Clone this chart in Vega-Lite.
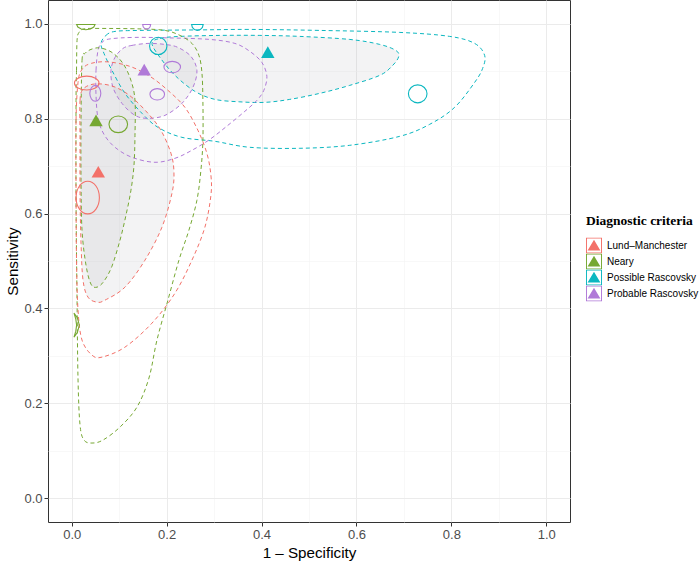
{
  "$schema": "https://vega.github.io/schema/vega-lite/v6.json",
  "width": 522,
  "height": 522,
  "autosize": {"type": "none"},
  "padding": {"left": 48, "top": 0, "right": 130, "bottom": 39},
  "background": "white",
  "config": {
    "view": {"stroke": "#333333", "strokeWidth": 1},
    "axis": {
      "domain": false,
      "labelFont": "Liberation Sans",
      "labelFontSize": 13,
      "labelColor": "#4D4D4D",
      "titleFont": "Liberation Sans",
      "titleFontSize": 15.2,
      "titleFontWeight": "normal",
      "titleColor": "#000000",
      "tickSize": 4,
      "labelPadding": 2,
      "values": [0, 0.1, 0.2, 0.3, 0.4, 0.5, 0.6, 0.7, 0.8, 0.9, 1.0],
      "labelExpr": "round(datum.value * 10) % 2 == 0 ? format(datum.value, '.1f') : ''",
      "gridColor": {"condition": {"test": "round(datum.value * 10) % 2 == 1", "value": "#F3F3F3"}, "value": "#EBEBEB"},
      "gridWidth": {"condition": {"test": "round(datum.value * 10) % 2 == 1", "value": 0.6}, "value": 1},
      "tickColor": {"condition": {"test": "round(datum.value * 10) % 2 == 1", "value": "transparent"}, "value": "#333333"}
    },
    "legend": {
      "orient": "none",
      "legendX": 538,
      "legendY": 214,
      "padding": 0,
      "titleFont": "Liberation Serif",
      "titleFontSize": 13.5,
      "titleFontWeight": "bold",
      "titleColor": "#000000",
      "titlePadding": 10,
      "labelFont": "Liberation Sans",
      "labelFontSize": 10,
      "labelColor": "#000000",
      "labelOffset": 5,
      "rowPadding": 0,
      "clipHeight": 16,
      "symbolType": "M-1,-1H1V1H-1Z M-0.88,-0.88V0.88H0.88V-0.88Z M0,-0.72L0.8,0.62H-0.8Z",
      "symbolSize": 256,
      "symbolStrokeWidth": 0,
      "symbolOpacity": 1
    }
  },
  "datasets": {
    "regions": [
      {"r": "cyan_p", "g": "Possible Rascovsky", "k": "p", "i": 0, "x": 0.0617, "y": 0.9585},
      {"r": "cyan_p", "g": "Possible Rascovsky", "k": "p", "i": 1, "x": 0.0722, "y": 0.9754},
      {"r": "cyan_p", "g": "Possible Rascovsky", "k": "p", "i": 2, "x": 0.0912, "y": 0.9838},
      {"r": "cyan_p", "g": "Possible Rascovsky", "k": "p", "i": 3, "x": 0.1438, "y": 0.9859},
      {"r": "cyan_p", "g": "Possible Rascovsky", "k": "p", "i": 4, "x": 0.2701, "y": 0.9870},
      {"r": "cyan_p", "g": "Possible Rascovsky", "k": "p", "i": 5, "x": 0.3754, "y": 0.9880},
      {"r": "cyan_p", "g": "Possible Rascovsky", "k": "p", "i": 6, "x": 0.5227, "y": 0.9859},
      {"r": "cyan_p", "g": "Possible Rascovsky", "k": "p", "i": 7, "x": 0.6912, "y": 0.9817},
      {"r": "cyan_p", "g": "Possible Rascovsky", "k": "p", "i": 8, "x": 0.7964, "y": 0.9733},
      {"r": "cyan_p", "g": "Possible Rascovsky", "k": "p", "i": 9, "x": 0.8491, "y": 0.9585},
      {"r": "cyan_p", "g": "Possible Rascovsky", "k": "p", "i": 10, "x": 0.8701, "y": 0.9333},
      {"r": "cyan_p", "g": "Possible Rascovsky", "k": "p", "i": 11, "x": 0.8659, "y": 0.9059},
      {"r": "cyan_p", "g": "Possible Rascovsky", "k": "p", "i": 12, "x": 0.8491, "y": 0.8764},
      {"r": "cyan_p", "g": "Possible Rascovsky", "k": "p", "i": 13, "x": 0.8069, "y": 0.8238},
      {"r": "cyan_p", "g": "Possible Rascovsky", "k": "p", "i": 14, "x": 0.7543, "y": 0.7880},
      {"r": "cyan_p", "g": "Possible Rascovsky", "k": "p", "i": 15, "x": 0.6912, "y": 0.7627},
      {"r": "cyan_p", "g": "Possible Rascovsky", "k": "p", "i": 16, "x": 0.5859, "y": 0.7438},
      {"r": "cyan_p", "g": "Possible Rascovsky", "k": "p", "i": 17, "x": 0.4806, "y": 0.7375},
      {"r": "cyan_p", "g": "Possible Rascovsky", "k": "p", "i": 18, "x": 0.3754, "y": 0.7396},
      {"r": "cyan_p", "g": "Possible Rascovsky", "k": "p", "i": 19, "x": 0.3017, "y": 0.7522},
      {"r": "cyan_p", "g": "Possible Rascovsky", "k": "p", "i": 20, "x": 0.2322, "y": 0.7606},
      {"r": "cyan_p", "g": "Possible Rascovsky", "k": "p", "i": 21, "x": 0.1817, "y": 0.7817},
      {"r": "cyan_p", "g": "Possible Rascovsky", "k": "p", "i": 22, "x": 0.1480, "y": 0.8112},
      {"r": "cyan_p", "g": "Possible Rascovsky", "k": "p", "i": 23, "x": 0.1122, "y": 0.8533},
      {"r": "cyan_p", "g": "Possible Rascovsky", "k": "p", "i": 24, "x": 0.0848, "y": 0.9017},
      {"r": "cyan_p", "g": "Possible Rascovsky", "k": "p", "i": 25, "x": 0.0680, "y": 0.9375},

      {"r": "cyan_c", "g": "Possible Rascovsky", "k": "c", "i": 0, "x": 0.1691, "y": 0.9585},
      {"r": "cyan_c", "g": "Possible Rascovsky", "k": "c", "i": 1, "x": 0.1859, "y": 0.9691},
      {"r": "cyan_c", "g": "Possible Rascovsky", "k": "c", "i": 2, "x": 0.2280, "y": 0.9733},
      {"r": "cyan_c", "g": "Possible Rascovsky", "k": "c", "i": 3, "x": 0.3122, "y": 0.9754},
      {"r": "cyan_c", "g": "Possible Rascovsky", "k": "c", "i": 4, "x": 0.3964, "y": 0.9754},
      {"r": "cyan_c", "g": "Possible Rascovsky", "k": "c", "i": 5, "x": 0.4806, "y": 0.9733},
      {"r": "cyan_c", "g": "Possible Rascovsky", "k": "c", "i": 6, "x": 0.5859, "y": 0.9669},
      {"r": "cyan_c", "g": "Possible Rascovsky", "k": "c", "i": 7, "x": 0.6491, "y": 0.9564},
      {"r": "cyan_c", "g": "Possible Rascovsky", "k": "c", "i": 8, "x": 0.6827, "y": 0.9438},
      {"r": "cyan_c", "g": "Possible Rascovsky", "k": "c", "i": 9, "x": 0.6891, "y": 0.9312},
      {"r": "cyan_c", "g": "Possible Rascovsky", "k": "c", "i": 10, "x": 0.6764, "y": 0.9122},
      {"r": "cyan_c", "g": "Possible Rascovsky", "k": "c", "i": 11, "x": 0.6491, "y": 0.8912},
      {"r": "cyan_c", "g": "Possible Rascovsky", "k": "c", "i": 12, "x": 0.5859, "y": 0.8701},
      {"r": "cyan_c", "g": "Possible Rascovsky", "k": "c", "i": 13, "x": 0.5227, "y": 0.8533},
      {"r": "cyan_c", "g": "Possible Rascovsky", "k": "c", "i": 14, "x": 0.4596, "y": 0.8406},
      {"r": "cyan_c", "g": "Possible Rascovsky", "k": "c", "i": 15, "x": 0.4069, "y": 0.8343},
      {"r": "cyan_c", "g": "Possible Rascovsky", "k": "c", "i": 16, "x": 0.3543, "y": 0.8354},
      {"r": "cyan_c", "g": "Possible Rascovsky", "k": "c", "i": 17, "x": 0.3017, "y": 0.8406},
      {"r": "cyan_c", "g": "Possible Rascovsky", "k": "c", "i": 18, "x": 0.2596, "y": 0.8575},
      {"r": "cyan_c", "g": "Possible Rascovsky", "k": "c", "i": 19, "x": 0.2175, "y": 0.8912},
      {"r": "cyan_c", "g": "Possible Rascovsky", "k": "c", "i": 20, "x": 0.1859, "y": 0.9291},

      {"r": "purple_p", "g": "Probable Rascovsky", "k": "p", "i": 0, "x": 0.0512, "y": 0.8491},
      {"r": "purple_p", "g": "Probable Rascovsky", "k": "p", "i": 1, "x": 0.0512, "y": 0.9017},
      {"r": "purple_p", "g": "Probable Rascovsky", "k": "p", "i": 2, "x": 0.0554, "y": 0.9438},
      {"r": "purple_p", "g": "Probable Rascovsky", "k": "p", "i": 3, "x": 0.0638, "y": 0.9606},
      {"r": "purple_p", "g": "Probable Rascovsky", "k": "p", "i": 4, "x": 0.0806, "y": 0.9680},
      {"r": "purple_p", "g": "Probable Rascovsky", "k": "p", "i": 5, "x": 0.1333, "y": 0.9712},
      {"r": "purple_p", "g": "Probable Rascovsky", "k": "p", "i": 6, "x": 0.2069, "y": 0.9701},
      {"r": "purple_p", "g": "Probable Rascovsky", "k": "p", "i": 7, "x": 0.2912, "y": 0.9669},
      {"r": "purple_p", "g": "Probable Rascovsky", "k": "p", "i": 8, "x": 0.3438, "y": 0.9585},
      {"r": "purple_p", "g": "Probable Rascovsky", "k": "p", "i": 9, "x": 0.3754, "y": 0.9417},
      {"r": "purple_p", "g": "Probable Rascovsky", "k": "p", "i": 10, "x": 0.4006, "y": 0.9185},
      {"r": "purple_p", "g": "Probable Rascovsky", "k": "p", "i": 11, "x": 0.4112, "y": 0.8891},
      {"r": "purple_p", "g": "Probable Rascovsky", "k": "p", "i": 12, "x": 0.4048, "y": 0.8596},
      {"r": "purple_p", "g": "Probable Rascovsky", "k": "p", "i": 13, "x": 0.3901, "y": 0.8385},
      {"r": "purple_p", "g": "Probable Rascovsky", "k": "p", "i": 14, "x": 0.3648, "y": 0.8154},
      {"r": "purple_p", "g": "Probable Rascovsky", "k": "p", "i": 15, "x": 0.3291, "y": 0.7859},
      {"r": "purple_p", "g": "Probable Rascovsky", "k": "p", "i": 16, "x": 0.2912, "y": 0.7564},
      {"r": "purple_p", "g": "Probable Rascovsky", "k": "p", "i": 17, "x": 0.2533, "y": 0.7333},
      {"r": "purple_p", "g": "Probable Rascovsky", "k": "p", "i": 18, "x": 0.2175, "y": 0.7164},
      {"r": "purple_p", "g": "Probable Rascovsky", "k": "p", "i": 19, "x": 0.1754, "y": 0.7080},
      {"r": "purple_p", "g": "Probable Rascovsky", "k": "p", "i": 20, "x": 0.1269, "y": 0.7185},
      {"r": "purple_p", "g": "Probable Rascovsky", "k": "p", "i": 21, "x": 0.0912, "y": 0.7396},
      {"r": "purple_p", "g": "Probable Rascovsky", "k": "p", "i": 22, "x": 0.0680, "y": 0.7669},
      {"r": "purple_p", "g": "Probable Rascovsky", "k": "p", "i": 23, "x": 0.0554, "y": 0.8006},

      {"r": "purple_c", "g": "Probable Rascovsky", "k": "c", "i": 0, "x": 0.1080, "y": 0.9480},
      {"r": "purple_c", "g": "Probable Rascovsky", "k": "c", "i": 1, "x": 0.1269, "y": 0.9543},
      {"r": "purple_c", "g": "Probable Rascovsky", "k": "c", "i": 2, "x": 0.1606, "y": 0.9585},
      {"r": "purple_c", "g": "Probable Rascovsky", "k": "c", "i": 3, "x": 0.1964, "y": 0.9564},
      {"r": "purple_c", "g": "Probable Rascovsky", "k": "c", "i": 4, "x": 0.2238, "y": 0.9501},
      {"r": "purple_c", "g": "Probable Rascovsky", "k": "c", "i": 5, "x": 0.2512, "y": 0.9312},
      {"r": "purple_c", "g": "Probable Rascovsky", "k": "c", "i": 6, "x": 0.2638, "y": 0.9017},
      {"r": "purple_c", "g": "Probable Rascovsky", "k": "c", "i": 7, "x": 0.2554, "y": 0.8659},
      {"r": "purple_c", "g": "Probable Rascovsky", "k": "c", "i": 8, "x": 0.2322, "y": 0.8322},
      {"r": "purple_c", "g": "Probable Rascovsky", "k": "c", "i": 9, "x": 0.1964, "y": 0.8069},
      {"r": "purple_c", "g": "Probable Rascovsky", "k": "c", "i": 10, "x": 0.1606, "y": 0.8006},
      {"r": "purple_c", "g": "Probable Rascovsky", "k": "c", "i": 11, "x": 0.1333, "y": 0.8069},
      {"r": "purple_c", "g": "Probable Rascovsky", "k": "c", "i": 12, "x": 0.1059, "y": 0.8322},
      {"r": "purple_c", "g": "Probable Rascovsky", "k": "c", "i": 13, "x": 0.0869, "y": 0.8659},
      {"r": "purple_c", "g": "Probable Rascovsky", "k": "c", "i": 14, "x": 0.0827, "y": 0.9017},
      {"r": "purple_c", "g": "Probable Rascovsky", "k": "c", "i": 15, "x": 0.0912, "y": 0.9291},

      {"r": "green_p", "g": "Neary", "k": "p", "i": 0, "x": 0.0091, "y": 0.8385},
      {"r": "green_p", "g": "Neary", "k": "p", "i": 1, "x": 0.0101, "y": 0.9017},
      {"r": "green_p", "g": "Neary", "k": "p", "i": 2, "x": 0.0112, "y": 0.9648},
      {"r": "green_p", "g": "Neary", "k": "p", "i": 3, "x": 0.0154, "y": 0.9817},
      {"r": "green_p", "g": "Neary", "k": "p", "i": 4, "x": 0.0259, "y": 0.9891},
      {"r": "green_p", "g": "Neary", "k": "p", "i": 5, "x": 0.0596, "y": 0.9901},
      {"r": "green_p", "g": "Neary", "k": "p", "i": 6, "x": 0.1438, "y": 0.9891},
      {"r": "green_p", "g": "Neary", "k": "p", "i": 7, "x": 0.1964, "y": 0.9859},
      {"r": "green_p", "g": "Neary", "k": "p", "i": 8, "x": 0.2280, "y": 0.9754},
      {"r": "green_p", "g": "Neary", "k": "p", "i": 9, "x": 0.2533, "y": 0.9585},
      {"r": "green_p", "g": "Neary", "k": "p", "i": 10, "x": 0.2680, "y": 0.9333},
      {"r": "green_p", "g": "Neary", "k": "p", "i": 11, "x": 0.2743, "y": 0.8975},
      {"r": "green_p", "g": "Neary", "k": "p", "i": 12, "x": 0.2764, "y": 0.8385},
      {"r": "green_p", "g": "Neary", "k": "p", "i": 13, "x": 0.2764, "y": 0.7543},
      {"r": "green_p", "g": "Neary", "k": "p", "i": 14, "x": 0.2722, "y": 0.6912},
      {"r": "green_p", "g": "Neary", "k": "p", "i": 15, "x": 0.2638, "y": 0.6280},
      {"r": "green_p", "g": "Neary", "k": "p", "i": 16, "x": 0.2469, "y": 0.5648},
      {"r": "green_p", "g": "Neary", "k": "p", "i": 17, "x": 0.2259, "y": 0.5017},
      {"r": "green_p", "g": "Neary", "k": "p", "i": 18, "x": 0.2027, "y": 0.4175},
      {"r": "green_p", "g": "Neary", "k": "p", "i": 19, "x": 0.1796, "y": 0.3333},
      {"r": "green_p", "g": "Neary", "k": "p", "i": 20, "x": 0.1627, "y": 0.2533},
      {"r": "green_p", "g": "Neary", "k": "p", "i": 21, "x": 0.1375, "y": 0.1922},
      {"r": "green_p", "g": "Neary", "k": "p", "i": 22, "x": 0.1017, "y": 0.1501},
      {"r": "green_p", "g": "Neary", "k": "p", "i": 23, "x": 0.0659, "y": 0.1227},
      {"r": "green_p", "g": "Neary", "k": "p", "i": 24, "x": 0.0427, "y": 0.1164},
      {"r": "green_p", "g": "Neary", "k": "p", "i": 25, "x": 0.0259, "y": 0.1227},
      {"r": "green_p", "g": "Neary", "k": "p", "i": 26, "x": 0.0175, "y": 0.1543},
      {"r": "green_p", "g": "Neary", "k": "p", "i": 27, "x": 0.0133, "y": 0.2491},
      {"r": "green_p", "g": "Neary", "k": "p", "i": 28, "x": 0.0112, "y": 0.4175},
      {"r": "green_p", "g": "Neary", "k": "p", "i": 29, "x": 0.0091, "y": 0.6280},

      {"r": "green_c", "g": "Neary", "k": "c", "i": 0, "x": 0.0196, "y": 0.7964},
      {"r": "green_c", "g": "Neary", "k": "c", "i": 1, "x": 0.0217, "y": 0.9227},
      {"r": "green_c", "g": "Neary", "k": "c", "i": 2, "x": 0.0280, "y": 0.9375},
      {"r": "green_c", "g": "Neary", "k": "c", "i": 3, "x": 0.0406, "y": 0.9459},
      {"r": "green_c", "g": "Neary", "k": "c", "i": 4, "x": 0.0596, "y": 0.9491},
      {"r": "green_c", "g": "Neary", "k": "c", "i": 5, "x": 0.0848, "y": 0.9396},
      {"r": "green_c", "g": "Neary", "k": "c", "i": 6, "x": 0.1080, "y": 0.9164},
      {"r": "green_c", "g": "Neary", "k": "c", "i": 7, "x": 0.1248, "y": 0.8806},
      {"r": "green_c", "g": "Neary", "k": "c", "i": 8, "x": 0.1333, "y": 0.8385},
      {"r": "green_c", "g": "Neary", "k": "c", "i": 9, "x": 0.1333, "y": 0.7648},
      {"r": "green_c", "g": "Neary", "k": "c", "i": 10, "x": 0.1312, "y": 0.7017},
      {"r": "green_c", "g": "Neary", "k": "c", "i": 11, "x": 0.1248, "y": 0.6491},
      {"r": "green_c", "g": "Neary", "k": "c", "i": 12, "x": 0.1143, "y": 0.5964},
      {"r": "green_c", "g": "Neary", "k": "c", "i": 13, "x": 0.1017, "y": 0.5438},
      {"r": "green_c", "g": "Neary", "k": "c", "i": 14, "x": 0.0848, "y": 0.4891},
      {"r": "green_c", "g": "Neary", "k": "c", "i": 15, "x": 0.0680, "y": 0.4575},
      {"r": "green_c", "g": "Neary", "k": "c", "i": 16, "x": 0.0533, "y": 0.4449},
      {"r": "green_c", "g": "Neary", "k": "c", "i": 17, "x": 0.0406, "y": 0.4512},
      {"r": "green_c", "g": "Neary", "k": "c", "i": 18, "x": 0.0301, "y": 0.4912},
      {"r": "green_c", "g": "Neary", "k": "c", "i": 19, "x": 0.0217, "y": 0.5648},
      {"r": "green_c", "g": "Neary", "k": "c", "i": 20, "x": 0.0196, "y": 0.6701},

      {"r": "red_p", "g": "Lund–Manchester", "k": "p", "i": 0, "x": 0.0091, "y": 0.6491},
      {"r": "red_p", "g": "Lund–Manchester", "k": "p", "i": 1, "x": 0.0091, "y": 0.7964},
      {"r": "red_p", "g": "Lund–Manchester", "k": "p", "i": 2, "x": 0.0133, "y": 0.8764},
      {"r": "red_p", "g": "Lund–Manchester", "k": "p", "i": 3, "x": 0.0217, "y": 0.9038},
      {"r": "red_p", "g": "Lund–Manchester", "k": "p", "i": 4, "x": 0.0406, "y": 0.9164},
      {"r": "red_p", "g": "Lund–Manchester", "k": "p", "i": 5, "x": 0.0764, "y": 0.9196},
      {"r": "red_p", "g": "Lund–Manchester", "k": "p", "i": 6, "x": 0.1227, "y": 0.9101},
      {"r": "red_p", "g": "Lund–Manchester", "k": "p", "i": 7, "x": 0.1648, "y": 0.8891},
      {"r": "red_p", "g": "Lund–Manchester", "k": "p", "i": 8, "x": 0.2027, "y": 0.8596},
      {"r": "red_p", "g": "Lund–Manchester", "k": "p", "i": 9, "x": 0.2385, "y": 0.8238},
      {"r": "red_p", "g": "Lund–Manchester", "k": "p", "i": 10, "x": 0.2659, "y": 0.7754},
      {"r": "red_p", "g": "Lund–Manchester", "k": "p", "i": 11, "x": 0.2848, "y": 0.7269},
      {"r": "red_p", "g": "Lund–Manchester", "k": "p", "i": 12, "x": 0.2933, "y": 0.6806},
      {"r": "red_p", "g": "Lund–Manchester", "k": "p", "i": 13, "x": 0.2933, "y": 0.6385},
      {"r": "red_p", "g": "Lund–Manchester", "k": "p", "i": 14, "x": 0.2806, "y": 0.5712},
      {"r": "red_p", "g": "Lund–Manchester", "k": "p", "i": 15, "x": 0.2533, "y": 0.5017},
      {"r": "red_p", "g": "Lund–Manchester", "k": "p", "i": 16, "x": 0.2175, "y": 0.4322},
      {"r": "red_p", "g": "Lund–Manchester", "k": "p", "i": 17, "x": 0.1691, "y": 0.3691},
      {"r": "red_p", "g": "Lund–Manchester", "k": "p", "i": 18, "x": 0.1122, "y": 0.3185},
      {"r": "red_p", "g": "Lund–Manchester", "k": "p", "i": 19, "x": 0.0638, "y": 0.2975},
      {"r": "red_p", "g": "Lund–Manchester", "k": "p", "i": 20, "x": 0.0427, "y": 0.3017},
      {"r": "red_p", "g": "Lund–Manchester", "k": "p", "i": 21, "x": 0.0217, "y": 0.3333},
      {"r": "red_p", "g": "Lund–Manchester", "k": "p", "i": 22, "x": 0.0133, "y": 0.3964},
      {"r": "red_p", "g": "Lund–Manchester", "k": "p", "i": 23, "x": 0.0101, "y": 0.5017},

      {"r": "red_c", "g": "Lund–Manchester", "k": "c", "i": 0, "x": 0.0175, "y": 0.7543},
      {"r": "red_c", "g": "Lund–Manchester", "k": "c", "i": 1, "x": 0.0175, "y": 0.8385},
      {"r": "red_c", "g": "Lund–Manchester", "k": "c", "i": 2, "x": 0.0238, "y": 0.8617},
      {"r": "red_c", "g": "Lund–Manchester", "k": "c", "i": 3, "x": 0.0427, "y": 0.8722},
      {"r": "red_c", "g": "Lund–Manchester", "k": "c", "i": 4, "x": 0.0701, "y": 0.8722},
      {"r": "red_c", "g": "Lund–Manchester", "k": "c", "i": 5, "x": 0.0975, "y": 0.8638},
      {"r": "red_c", "g": "Lund–Manchester", "k": "c", "i": 6, "x": 0.1269, "y": 0.8448},
      {"r": "red_c", "g": "Lund–Manchester", "k": "c", "i": 7, "x": 0.1606, "y": 0.8112},
      {"r": "red_c", "g": "Lund–Manchester", "k": "c", "i": 8, "x": 0.1880, "y": 0.7754},
      {"r": "red_c", "g": "Lund–Manchester", "k": "c", "i": 9, "x": 0.2091, "y": 0.7269},
      {"r": "red_c", "g": "Lund–Manchester", "k": "c", "i": 10, "x": 0.2154, "y": 0.6869},
      {"r": "red_c", "g": "Lund–Manchester", "k": "c", "i": 11, "x": 0.2112, "y": 0.6427},
      {"r": "red_c", "g": "Lund–Manchester", "k": "c", "i": 12, "x": 0.1901, "y": 0.5712},
      {"r": "red_c", "g": "Lund–Manchester", "k": "c", "i": 13, "x": 0.1543, "y": 0.5017},
      {"r": "red_c", "g": "Lund–Manchester", "k": "c", "i": 14, "x": 0.1122, "y": 0.4449},
      {"r": "red_c", "g": "Lund–Manchester", "k": "c", "i": 15, "x": 0.0701, "y": 0.4175},
      {"r": "red_c", "g": "Lund–Manchester", "k": "c", "i": 16, "x": 0.0533, "y": 0.4133},
      {"r": "red_c", "g": "Lund–Manchester", "k": "c", "i": 17, "x": 0.0343, "y": 0.4238},
      {"r": "red_c", "g": "Lund–Manchester", "k": "c", "i": 18, "x": 0.0238, "y": 0.4596},
      {"r": "red_c", "g": "Lund–Manchester", "k": "c", "i": 19, "x": 0.0196, "y": 0.5375},
      {"r": "red_c", "g": "Lund–Manchester", "k": "c", "i": 20, "x": 0.0175, "y": 0.6427}
    ],
    "studies": [
      {"s": "lm1", "g": "Lund–Manchester", "i": 0, "x": 0.0575, "y": 0.8749},
      {"s": "lm1", "g": "Lund–Manchester", "i": 1, "x": 0.0499, "y": 0.8853},
      {"s": "lm1", "g": "Lund–Manchester", "i": 2, "x": 0.0316, "y": 0.8896},
      {"s": "lm1", "g": "Lund–Manchester", "i": 3, "x": 0.0133, "y": 0.8853},
      {"s": "lm1", "g": "Lund–Manchester", "i": 4, "x": 0.0057, "y": 0.8749},
      {"s": "lm1", "g": "Lund–Manchester", "i": 5, "x": 0.0133, "y": 0.8645},
      {"s": "lm1", "g": "Lund–Manchester", "i": 6, "x": 0.0316, "y": 0.8602},
      {"s": "lm1", "g": "Lund–Manchester", "i": 7, "x": 0.0499, "y": 0.8645},

      {"s": "lm2", "g": "Lund–Manchester", "i": 0, "x": 0.0583, "y": 0.6337},
      {"s": "lm2", "g": "Lund–Manchester", "i": 1, "x": 0.0511, "y": 0.6580},
      {"s": "lm2", "g": "Lund–Manchester", "i": 2, "x": 0.0337, "y": 0.6680},
      {"s": "lm2", "g": "Lund–Manchester", "i": 3, "x": 0.0163, "y": 0.6580},
      {"s": "lm2", "g": "Lund–Manchester", "i": 4, "x": 0.0091, "y": 0.6337},
      {"s": "lm2", "g": "Lund–Manchester", "i": 5, "x": 0.0163, "y": 0.6094},
      {"s": "lm2", "g": "Lund–Manchester", "i": 6, "x": 0.0337, "y": 0.5994},
      {"s": "lm2", "g": "Lund–Manchester", "i": 7, "x": 0.0511, "y": 0.6094},

      {"s": "ne1", "g": "Neary", "i": 0, "x": 0.1177, "y": 0.7880},
      {"s": "ne1", "g": "Neary", "i": 1, "x": 0.1120, "y": 0.8004},
      {"s": "ne1", "g": "Neary", "i": 2, "x": 0.0981, "y": 0.8055},
      {"s": "ne1", "g": "Neary", "i": 3, "x": 0.0842, "y": 0.8004},
      {"s": "ne1", "g": "Neary", "i": 4, "x": 0.0785, "y": 0.7880},
      {"s": "ne1", "g": "Neary", "i": 5, "x": 0.0842, "y": 0.7756},
      {"s": "ne1", "g": "Neary", "i": 6, "x": 0.0981, "y": 0.7705},
      {"s": "ne1", "g": "Neary", "i": 7, "x": 0.1120, "y": 0.7756},

      {"s": "pr1", "g": "Probable Rascovsky", "i": 0, "x": 0.2293, "y": 0.9086},
      {"s": "pr1", "g": "Probable Rascovsky", "i": 1, "x": 0.2242, "y": 0.9171},
      {"s": "pr1", "g": "Probable Rascovsky", "i": 2, "x": 0.2118, "y": 0.9206},
      {"s": "pr1", "g": "Probable Rascovsky", "i": 3, "x": 0.1994, "y": 0.9171},
      {"s": "pr1", "g": "Probable Rascovsky", "i": 4, "x": 0.1943, "y": 0.9086},
      {"s": "pr1", "g": "Probable Rascovsky", "i": 5, "x": 0.1994, "y": 0.9001},
      {"s": "pr1", "g": "Probable Rascovsky", "i": 6, "x": 0.2118, "y": 0.8966},
      {"s": "pr1", "g": "Probable Rascovsky", "i": 7, "x": 0.2242, "y": 0.9001},

      {"s": "pr2", "g": "Probable Rascovsky", "i": 0, "x": 0.1956, "y": 0.8512},
      {"s": "pr2", "g": "Probable Rascovsky", "i": 1, "x": 0.1911, "y": 0.8597},
      {"s": "pr2", "g": "Probable Rascovsky", "i": 2, "x": 0.1802, "y": 0.8632},
      {"s": "pr2", "g": "Probable Rascovsky", "i": 3, "x": 0.1693, "y": 0.8597},
      {"s": "pr2", "g": "Probable Rascovsky", "i": 4, "x": 0.1648, "y": 0.8512},
      {"s": "pr2", "g": "Probable Rascovsky", "i": 5, "x": 0.1693, "y": 0.8427},
      {"s": "pr2", "g": "Probable Rascovsky", "i": 6, "x": 0.1802, "y": 0.8392},
      {"s": "pr2", "g": "Probable Rascovsky", "i": 7, "x": 0.1911, "y": 0.8427},

      {"s": "pr3", "g": "Probable Rascovsky", "i": 0, "x": 0.0613, "y": 0.8533},
      {"s": "pr3", "g": "Probable Rascovsky", "i": 1, "x": 0.0579, "y": 0.8652},
      {"s": "pr3", "g": "Probable Rascovsky", "i": 2, "x": 0.0497, "y": 0.8701},
      {"s": "pr3", "g": "Probable Rascovsky", "i": 3, "x": 0.0415, "y": 0.8652},
      {"s": "pr3", "g": "Probable Rascovsky", "i": 4, "x": 0.0381, "y": 0.8533},
      {"s": "pr3", "g": "Probable Rascovsky", "i": 5, "x": 0.0415, "y": 0.8414},
      {"s": "pr3", "g": "Probable Rascovsky", "i": 6, "x": 0.0497, "y": 0.8365},
      {"s": "pr3", "g": "Probable Rascovsky", "i": 7, "x": 0.0579, "y": 0.8414},

      {"s": "po1", "g": "Possible Rascovsky", "i": 0, "x": 0.2006, "y": 0.9533},
      {"s": "po1", "g": "Possible Rascovsky", "i": 1, "x": 0.1952, "y": 0.9662},
      {"s": "po1", "g": "Possible Rascovsky", "i": 2, "x": 0.1823, "y": 0.9716},
      {"s": "po1", "g": "Possible Rascovsky", "i": 3, "x": 0.1694, "y": 0.9662},
      {"s": "po1", "g": "Possible Rascovsky", "i": 4, "x": 0.1640, "y": 0.9533},
      {"s": "po1", "g": "Possible Rascovsky", "i": 5, "x": 0.1694, "y": 0.9404},
      {"s": "po1", "g": "Possible Rascovsky", "i": 6, "x": 0.1823, "y": 0.9350},
      {"s": "po1", "g": "Possible Rascovsky", "i": 7, "x": 0.1952, "y": 0.9404},

      {"s": "po2", "g": "Possible Rascovsky", "i": 0, "x": 0.7487, "y": 0.8522},
      {"s": "po2", "g": "Possible Rascovsky", "i": 1, "x": 0.7430, "y": 0.8656},
      {"s": "po2", "g": "Possible Rascovsky", "i": 2, "x": 0.7291, "y": 0.8711},
      {"s": "po2", "g": "Possible Rascovsky", "i": 3, "x": 0.7152, "y": 0.8656},
      {"s": "po2", "g": "Possible Rascovsky", "i": 4, "x": 0.7095, "y": 0.8522},
      {"s": "po2", "g": "Possible Rascovsky", "i": 5, "x": 0.7152, "y": 0.8388},
      {"s": "po2", "g": "Possible Rascovsky", "i": 6, "x": 0.7291, "y": 0.8333},
      {"s": "po2", "g": "Possible Rascovsky", "i": 7, "x": 0.7430, "y": 0.8388}
    ],
    "edgeStudies": [
      {"s": "ne2", "g": "Neary", "i": 0, "x": 0.0103, "y": 0.9985},
      {"s": "ne2", "g": "Neary", "i": 1, "x": 0.0129, "y": 0.9929},
      {"s": "ne2", "g": "Neary", "i": 2, "x": 0.0200, "y": 0.9888},
      {"s": "ne2", "g": "Neary", "i": 3, "x": 0.0297, "y": 0.9873},
      {"s": "ne2", "g": "Neary", "i": 4, "x": 0.0394, "y": 0.9888},
      {"s": "ne2", "g": "Neary", "i": 5, "x": 0.0465, "y": 0.9929},
      {"s": "ne2", "g": "Neary", "i": 6, "x": 0.0491, "y": 0.9985},

      {"s": "pr4", "g": "Probable Rascovsky", "i": 0, "x": 0.1495, "y": 0.9985},
      {"s": "pr4", "g": "Probable Rascovsky", "i": 1, "x": 0.1506, "y": 0.9936},
      {"s": "pr4", "g": "Probable Rascovsky", "i": 2, "x": 0.1537, "y": 0.9899},
      {"s": "pr4", "g": "Probable Rascovsky", "i": 3, "x": 0.1579, "y": 0.9886},
      {"s": "pr4", "g": "Probable Rascovsky", "i": 4, "x": 0.1621, "y": 0.9899},
      {"s": "pr4", "g": "Probable Rascovsky", "i": 5, "x": 0.1652, "y": 0.9936},
      {"s": "pr4", "g": "Probable Rascovsky", "i": 6, "x": 0.1663, "y": 0.9985},

      {"s": "po3", "g": "Possible Rascovsky", "i": 0, "x": 0.2526, "y": 0.9985},
      {"s": "po3", "g": "Possible Rascovsky", "i": 1, "x": 0.2542, "y": 0.9922},
      {"s": "po3", "g": "Possible Rascovsky", "i": 2, "x": 0.2587, "y": 0.9876},
      {"s": "po3", "g": "Possible Rascovsky", "i": 3, "x": 0.2648, "y": 0.9859},
      {"s": "po3", "g": "Possible Rascovsky", "i": 4, "x": 0.2709, "y": 0.9876},
      {"s": "po3", "g": "Possible Rascovsky", "i": 5, "x": 0.2754, "y": 0.9922},
      {"s": "po3", "g": "Possible Rascovsky", "i": 6, "x": 0.2770, "y": 0.9985},

      {"s": "ne3", "g": "Neary", "i": 0, "x": 0.0048, "y": 0.3901},
      {"s": "ne3", "g": "Neary", "i": 1, "x": 0.0118, "y": 0.3806},
      {"s": "ne3", "g": "Neary", "i": 2, "x": 0.0160, "y": 0.3648},
      {"s": "ne3", "g": "Neary", "i": 3, "x": 0.0118, "y": 0.3491},
      {"s": "ne3", "g": "Neary", "i": 4, "x": 0.0048, "y": 0.3396},
      {"s": "ne3", "g": "Neary", "i": 5, "x": 0.0086, "y": 0.3522},
      {"s": "ne3", "g": "Neary", "i": 6, "x": 0.0103, "y": 0.3648},
      {"s": "ne3", "g": "Neary", "i": 7, "x": 0.0086, "y": 0.3775}
    ],
    "summary": [
      {"g": "Lund–Manchester", "x": 0.056, "y": 0.688},
      {"g": "Neary", "x": 0.0512, "y": 0.7964},
      {"g": "Possible Rascovsky", "x": 0.4132, "y": 0.9402},
      {"g": "Probable Rascovsky", "x": 0.1528, "y": 0.9032}
    ]
  },
  "encoding": {
    "x": {"field": "x", "type": "quantitative", "scale": {"domain": [-0.05, 1.05], "nice": false, "zero": false}, "title": "1 – Specificity", "axis": {"titlePadding": 4}},
    "y": {"field": "y", "type": "quantitative", "scale": {"domain": [-0.05, 1.05], "nice": false, "zero": false}, "title": "Sensitivity", "axis": {"titlePadding": 3}}
  },
  "layer": [
    {
      "data": {"name": "regions"},
      "transform": [{"filter": "datum.k == 'c'"}],
      "mark": {"type": "line", "interpolate": "cardinal-closed", "fill": "#a0a5ab", "fillOpacity": 0.13, "strokeWidth": 0, "strokeOpacity": 0},
      "encoding": {
        "detail": {"field": "r"},
        "order": {"field": "i", "type": "quantitative"}
      }
    },
    {
      "data": {"name": "regions"},
      "mark": {"type": "line", "interpolate": "cardinal-closed", "strokeDash": [4, 3], "strokeWidth": 1},
      "encoding": {
        "detail": {"field": "r"},
        "order": {"field": "i", "type": "quantitative"},
        "color": {"field": "g", "type": "nominal", "title": "Diagnostic criteria"}
      }
    },
    {
      "data": {"name": "studies"},
      "mark": {"type": "line", "interpolate": "cardinal-closed", "strokeWidth": 1.1},
      "encoding": {
        "detail": {"field": "s"},
        "order": {"field": "i", "type": "quantitative"},
        "color": {"field": "g", "type": "nominal", "title": "Diagnostic criteria"}
      }
    },
    {
      "data": {"name": "edgeStudies"},
      "mark": {"type": "line", "interpolate": "linear-closed", "strokeWidth": 1.1},
      "encoding": {
        "detail": {"field": "s"},
        "order": {"field": "i", "type": "quantitative"},
        "color": {"field": "g", "type": "nominal", "title": "Diagnostic criteria"}
      }
    },
    {
      "data": {"name": "summary"},
      "mark": {"type": "point", "shape": "triangle-up", "filled": true, "size": 180, "opacity": 1},
      "encoding": {
        "color": {
          "field": "g",
          "type": "nominal",
          "title": "Diagnostic criteria",
          "scale": {
            "domain": ["Lund–Manchester", "Neary", "Possible Rascovsky", "Probable Rascovsky"],
            "range": ["#F37169", "#76A832", "#0BB7C0", "#B07AD8"]
          },
          "legend": {
            "encode": {
              "symbols": {
                "update": {
                  "fill": {"scale": "color", "field": "value"},
                  "stroke": {"value": "transparent"},
                  "opacity": {"value": 1}
                }
              }
            }
          }
        }
      }
    }
  ]
}
